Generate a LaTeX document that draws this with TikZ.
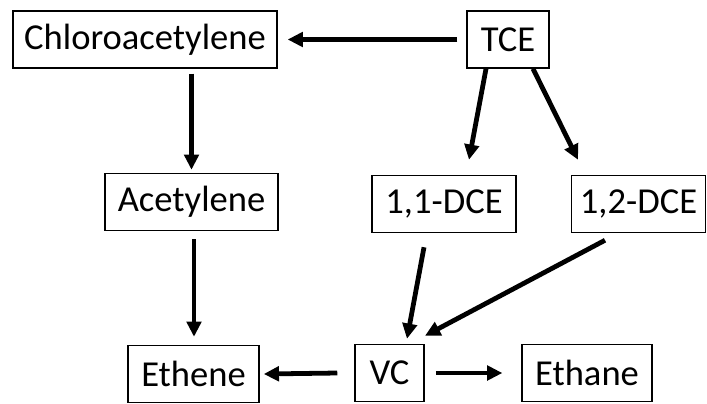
\documentclass[tikz,border=0pt]{standalone}
\usepackage{fontspec}
\setmainfont{Carlito}
\usetikzlibrary{arrows.meta,calc}
\tikzset{
	box/.style={draw,line width=0.9pt,minimum height=1.43cm,inner sep=0pt,font=\fontsize{26}{30}\selectfont},
	path/.style={-{Triangle[length=0.38cm,width=0.36cm]},line width=3.4pt},
}
\begin{document}
\begin{tikzpicture}[x=0.025cm,y=-0.025cm]
		\useasboundingbox (0,0) rectangle (707,403);
		
		\node[box,minimum width=6.6cm] (chloro) at (145,39.5) {Chloroacetylene};
		\node[box,minimum width=2.05cm] (tce) at (508,39.5) {TCE};
		\node[box,minimum width=4.32cm] (acet) at (191.5,202) {Acetylene};
		\node[box,minimum width=3.6cm] (dce11) at (444,204) {1,1-DCE};
		\node[box,minimum width=3.36cm] (dce12) at (638.5,204) {1,2-DCE};
		\node[box,minimum width=3.28cm] (ethene) at (193.5,374) {Ethene};
		\node[box,minimum width=1.73cm] (vc) at (389.5,373) {VC};
		\node[box,minimum width=3.25cm] (ethane) at (587,373) {Ethane};
		
		\draw[path] ($(tce.west)+(-9,0)$) -- ($(chloro.east)+(10,0)$);
		\draw[path] ($(chloro.south -| acet)+(0,5)$) -- ($(acet.north)+(0,-3)$);
		\draw[path] ($(acet.south)+(2.5,8)$) -- ($(ethene.north)+(0.5,-8)$);
		
		\draw[path] ($(tce.south)+(-22,0)$) -- ($(dce11.north)+(25,-15)$);
		\draw[path] ($(tce.south)+(25,0)$) -- ($(dce12.north)+(-60.5,-15)$);
		
		\draw[path] ($(dce11.south)+(-20,14)$) -- ($(vc.north)+(17.5,-5)$);
		\draw[path] ($(dce12.south)+(-33.5,7)$) -- ($(vc.north)+(35.5,-8)$);
		
		\draw[path] ($(vc.west)+(-17,0)$) -- ($(ethene.east)+(4,0)$);
		\draw[path] ($(vc.east)+(11,0)$) -- ($(ethane.west)+(-19,0)$);
	\end{tikzpicture}
\end{document}
